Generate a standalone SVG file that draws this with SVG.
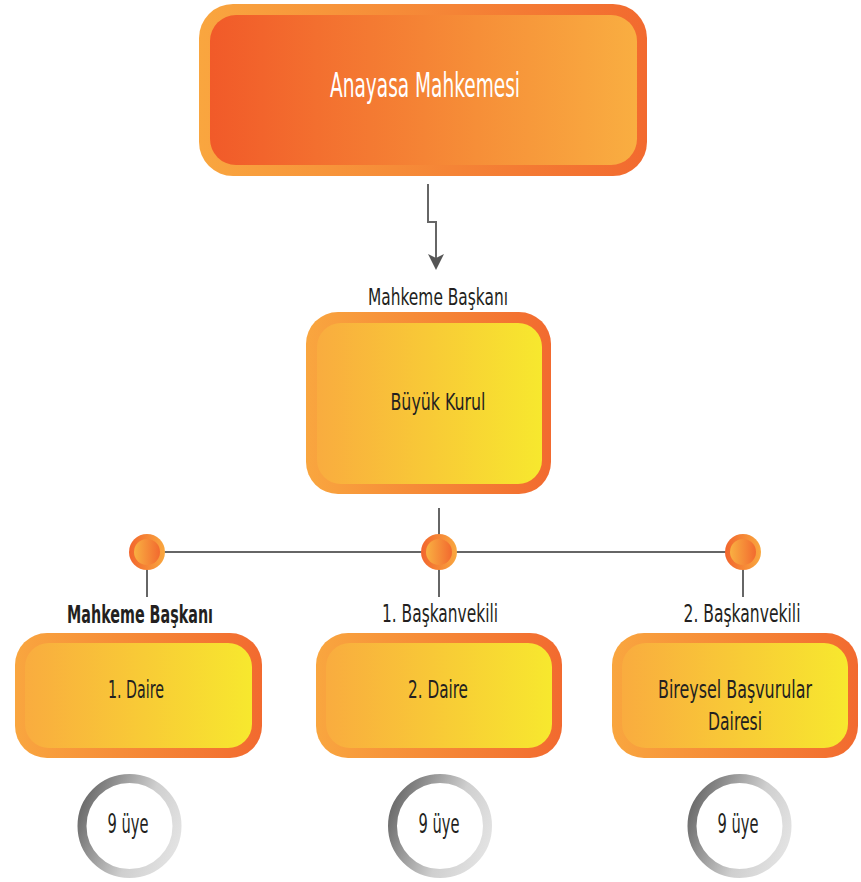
<svg xmlns="http://www.w3.org/2000/svg" width="861" height="882" viewBox="0 0 861 882">
<defs>
<linearGradient id="gOuter" x1="0" y1="0" x2="1" y2="0"><stop offset="0" stop-color="#F9A63F"/><stop offset="1" stop-color="#F26A2F"/></linearGradient>
<linearGradient id="gInnerTop" x1="0" y1="0" x2="1" y2="0"><stop offset="0" stop-color="#F15A29"/><stop offset="1" stop-color="#F9AE41"/></linearGradient>
<linearGradient id="gInnerY" x1="0" y1="0" x2="1" y2="0"><stop offset="0" stop-color="#F9AC3F"/><stop offset="1" stop-color="#F7E82E"/></linearGradient>
<linearGradient id="gDotOut" x1="0" y1="0" x2="1" y2="0"><stop offset="0" stop-color="#F2652D"/><stop offset="1" stop-color="#F9A83F"/></linearGradient>
<linearGradient id="gDotIn" x1="0" y1="0" x2="1" y2="0"><stop offset="0" stop-color="#F9B042"/><stop offset="1" stop-color="#F26A2F"/></linearGradient>
<linearGradient id="gRing" x1="0" y1="0.3" x2="1" y2="0.7"><stop offset="0" stop-color="#6E6E6E"/><stop offset="0.6" stop-color="#CFCFCF"/><stop offset="1" stop-color="#E2E2E2"/></linearGradient>
<marker id="arrow" markerWidth="16" markerHeight="16" refX="14" refY="8" orient="auto" markerUnits="userSpaceOnUse" viewBox="0 0 16 16">
<path d="M0,0 L4,8 L0,16 L16,8 Z" fill="#555"/>
</marker>
<style>
.t{font-family:"Liberation Sans Narrow","DejaVu Sans Condensed","Roboto Condensed","Liberation Sans",sans-serif;fill:#231F20;text-anchor:middle}
.w{fill:#FFFFFF}
.b{font-weight:bold}
.ln{stroke:#666;stroke-width:2;fill:none}
.ring{fill:#FFFFFF;stroke:url(#gRing);stroke-width:9}
</style>
</defs>

<g id="connectors">
<path class="ln" d="M428,184 V222 H436 V268" stroke="#555" marker-end="url(#arrow)"/>
<path class="ln" d="M439,508 V597"/>
<path class="ln" d="M147,552 H743"/>
<path class="ln" d="M147,552 V597"/>
<path class="ln" d="M743,552 V597"/>
</g>

<g id="anayasa-mahkemesi">
<rect x="199" y="4" width="448" height="172" rx="34" fill="url(#gOuter)"/>
<rect x="210" y="15" width="427" height="150" rx="26" fill="url(#gInnerTop)"/>
<text class="t w" x="425" y="97" font-size="33" textLength="190" lengthAdjust="spacingAndGlyphs">Anayasa Mahkemesi</text>
</g>

<g id="buyuk-kurul">
<text class="t" x="438" y="305" font-size="23" textLength="140" lengthAdjust="spacingAndGlyphs">Mahkeme Başkanı</text>
<rect x="306" y="312" width="245" height="182" rx="32" fill="url(#gOuter)"/>
<rect x="317" y="323" width="225" height="161" rx="24" fill="url(#gInnerY)"/>
<text class="t" x="438" y="410" font-size="23" textLength="95" lengthAdjust="spacingAndGlyphs">Büyük Kurul</text>
</g>

<g id="dot-1">
<circle cx="147" cy="552" r="18" fill="url(#gDotOut)"/>
<circle cx="147" cy="552" r="13" fill="url(#gDotIn)"/>
</g>
<g id="dot-2">
<circle cx="439" cy="552" r="18" fill="url(#gDotOut)"/>
<circle cx="439" cy="552" r="13" fill="url(#gDotIn)"/>
</g>
<g id="dot-3">
<circle cx="743" cy="552" r="18" fill="url(#gDotOut)"/>
<circle cx="743" cy="552" r="13" fill="url(#gDotIn)"/>
</g>

<g id="daire-1">
<text class="t b" x="140" y="623" font-size="24" textLength="146" lengthAdjust="spacingAndGlyphs">Mahkeme Başkanı</text>
<rect x="15" y="633" width="247" height="125" rx="32" fill="url(#gOuter)"/>
<rect x="25" y="643" width="227" height="105" rx="24" fill="url(#gInnerY)"/>
<text class="t" x="136" y="698" font-size="25" textLength="56" lengthAdjust="spacingAndGlyphs">1. Daire</text>
</g>

<g id="daire-2">
<text class="t" x="440" y="622" font-size="24" textLength="116" lengthAdjust="spacingAndGlyphs">1. Başkanvekili</text>
<rect x="316" y="633" width="246" height="125" rx="32" fill="url(#gOuter)"/>
<rect x="326" y="643" width="226" height="105" rx="24" fill="url(#gInnerY)"/>
<text class="t" x="438" y="698" font-size="25" textLength="60" lengthAdjust="spacingAndGlyphs">2. Daire</text>
</g>

<g id="bireysel-basvurular">
<text class="t" x="742" y="622" font-size="24" textLength="117" lengthAdjust="spacingAndGlyphs">2. Başkanvekili</text>
<rect x="612" y="633" width="246" height="125" rx="32" fill="url(#gOuter)"/>
<rect x="622" y="643" width="226" height="105" rx="24" fill="url(#gInnerY)"/>
<text class="t" x="735" y="698" font-size="24" textLength="154" lengthAdjust="spacingAndGlyphs">Bireysel Başvurular</text>
<text class="t" x="735" y="730" font-size="24" textLength="54" lengthAdjust="spacingAndGlyphs">Dairesi</text>
</g>

<g id="uye-1">
<circle class="ring" cx="129.5" cy="826" r="47.5"/>
<text class="t" x="128" y="833" font-size="27" textLength="41" lengthAdjust="spacingAndGlyphs">9 üye</text>
</g>
<g id="uye-2">
<circle class="ring" cx="440" cy="826" r="47.5"/>
<text class="t" x="439" y="833" font-size="27" textLength="41" lengthAdjust="spacingAndGlyphs">9 üye</text>
</g>
<g id="uye-3">
<circle class="ring" cx="739.5" cy="826" r="47.5"/>
<text class="t" x="738" y="833" font-size="27" textLength="41" lengthAdjust="spacingAndGlyphs">9 üye</text>
</g>
</svg>
